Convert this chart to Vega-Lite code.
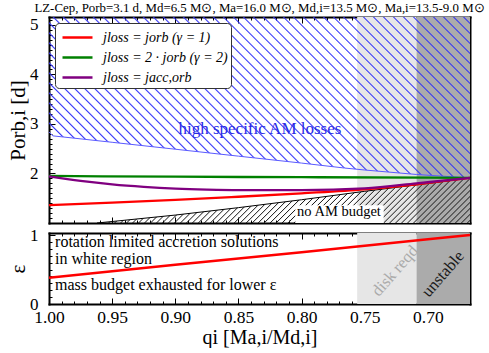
{
"$schema": "https://vega.github.io/schema/vega-lite/v6.json",
"padding": {"left": 7, "top": 1, "right": 5, "bottom": 0},
"title": {"text": "LZ-Cep, Porb=3.1 d, Md=6.5 M⊙, Ma=16.0 M⊙, Md,i=13.5 M⊙, Ma,i=13.5-9.0 M⊙", "fontSize": 12.9, "font": "Liberation Serif", "fontWeight": "normal", "anchor": "middle", "frame": "group", "offset": 1.5, "color": "black"},
"spacing": 1,
"datasets": {
"zones": [{"zone": "disk", "qa": 0.756, "qb": 0.709}, {"zone": "unstable", "qa": 0.709, "qb": 0.66667}],
"curves": [
{"model": "jloss = jorb (γ = 1)", "q": 1.0, "P": 1.36}, {"model": "jloss = jorb (γ = 1)", "q": 0.95, "P": 1.41}, {"model": "jloss = jorb (γ = 1)", "q": 0.9, "P": 1.465}, {"model": "jloss = jorb (γ = 1)", "q": 0.85, "P": 1.53}, {"model": "jloss = jorb (γ = 1)", "q": 0.8, "P": 1.6}, {"model": "jloss = jorb (γ = 1)", "q": 0.75, "P": 1.68}, {"model": "jloss = jorb (γ = 1)", "q": 0.709, "P": 1.78}, {"model": "jloss = jorb (γ = 1)", "q": 0.69, "P": 1.84}, {"model": "jloss = jorb (γ = 1)", "q": 0.66667, "P": 1.91},
{"model": "jloss = 2 · jorb (γ = 2)", "q": 1.0, "P": 1.95}, {"model": "jloss = 2 · jorb (γ = 2)", "q": 0.9, "P": 1.935}, {"model": "jloss = 2 · jorb (γ = 2)", "q": 0.8, "P": 1.925}, {"model": "jloss = 2 · jorb (γ = 2)", "q": 0.7, "P": 1.915}, {"model": "jloss = 2 · jorb (γ = 2)", "q": 0.66667, "P": 1.91},
{"model": "jloss = jacc,orb", "q": 1.0, "P": 1.94}, {"model": "jloss = jacc,orb", "q": 0.975, "P": 1.85}, {"model": "jloss = jacc,orb", "q": 0.95, "P": 1.78}, {"model": "jloss = jacc,orb", "q": 0.925, "P": 1.73}, {"model": "jloss = jacc,orb", "q": 0.9, "P": 1.695}, {"model": "jloss = jacc,orb", "q": 0.875, "P": 1.675}, {"model": "jloss = jacc,orb", "q": 0.85, "P": 1.665}, {"model": "jloss = jacc,orb", "q": 0.8, "P": 1.665}, {"model": "jloss = jacc,orb", "q": 0.75, "P": 1.7}, {"model": "jloss = jacc,orb", "q": 0.709, "P": 1.8}, {"model": "jloss = jacc,orb", "q": 0.69, "P": 1.85}, {"model": "jloss = jacc,orb", "q": 0.66667, "P": 1.91}
],
"blue": [{"q": 1.0, "P": 2.84}, {"q": 0.997, "P": 2.76}, {"q": 0.95, "P": 2.63}, {"q": 0.9, "P": 2.49}, {"q": 0.85, "P": 2.35}, {"q": 0.8, "P": 2.21}, {"q": 0.766, "P": 2.11}, {"q": 0.75, "P": 2.07}, {"q": 0.709, "P": 1.98}, {"q": 0.66667, "P": 1.91}],
"black": [{"q": 0.962, "P": 1.0}, {"q": 0.95, "P": 1.03}, {"q": 0.9, "P": 1.16}, {"q": 0.85, "P": 1.31}, {"q": 0.8, "P": 1.47}, {"q": 0.75, "P": 1.64}, {"q": 0.709, "P": 1.77}, {"q": 0.69, "P": 1.83}, {"q": 0.66667, "P": 1.91}],
"box": [{"qa": 0.805, "qb": 0.735, "pa": 1.0, "pb": 1.36}],
"toptext": [{"text": "high specific AM losses", "q": 0.833, "P": 2.9, "kind": "hi"}, {"text": "no AM budget", "q": 0.7704, "P": 1.23, "kind": "no"}],
"eps": [{"q": 1.0, "eps": 0.38}, {"q": 0.9, "eps": 0.57}, {"q": 0.8, "eps": 0.75}, {"q": 0.7, "eps": 0.94}, {"q": 0.66667, "eps": 1.0}],
"notes": [{"text": "rotation limited accretion solutions", "q": 0.9952, "eps": 0.905}, {"text": "in white region", "q": 0.9952, "eps": 0.66}, {"text": "mass budget exhausted for lower ε", "q": 0.9952, "eps": 0.276}],
"zlabels": [{"text": "disk reqd", "q": 0.726, "eps": 0.479}, {"text": "unstable", "q": 0.688, "eps": 0.435}]
},
"vconcat": [
{
"width": 421, "height": 206,
"layer": [
{"data": {"name": "zones"}, "transform": [{"filter": "datum.zone === 'disk'"}], "mark": {"type": "rect", "color": "#e6e6e6"},
 "encoding": {"x": {"field": "qa", "type": "quantitative", "scale": {"domain": [0.66667, 1], "reverse": true, "nice": false, "zero": false}, "axis": {"orient": "bottom", "values": [0.7, 0.75, 0.8, 0.85, 0.9, 0.95, 1], "tickSize": -6, "labels": false, "title": null, "domain": true, "domainWidth": 2, "domainColor": "black", "domainCap": "square"}}, "x2": {"field": "qb"},
  "y": {"datum": 1, "type": "quantitative", "scale": {"domain": [1, 5.16], "nice": false, "zero": false}, "axis": null}, "y2": {"datum": 5.16}}},
{"data": {"name": "zones"}, "transform": [{"filter": "datum.zone === 'unstable'"}], "mark": {"type": "rect", "color": "#ababab"},
 "encoding": {"x": {"field": "qa", "type": "quantitative", "axis": {"orient": "top", "values": [0.7, 0.75, 0.8, 0.85, 0.9, 0.95, 1], "tickSize": -6, "labels": false, "title": null, "domain": true, "domainWidth": 2, "domainColor": "black", "domainCap": "square"}}, "x2": {"field": "qb"},
  "y": {"datum": 1, "type": "quantitative", "axis": null}, "y2": {"datum": 5.16}}},
{"data": {"name": "blue"}, "mark": {"type": "area", "fill": {"gradient": "linear", "x1": 0, "y1": 1, "x2": 1.206, "y2": 0.539, "stops": [
{"offset":0.0061,"color":"#2d2dfa00"},{"offset":0.0086,"color":"#2d2dfa"},{"offset":0.0111,"color":"#2d2dfa00"},
{"offset":0.0233,"color":"#2d2dfa00"},{"offset":0.0258,"color":"#2d2dfa"},{"offset":0.0283,"color":"#2d2dfa00"},
{"offset":0.0405,"color":"#2d2dfa00"},{"offset":0.0430,"color":"#2d2dfa"},{"offset":0.0455,"color":"#2d2dfa00"},
{"offset":0.0577,"color":"#2d2dfa00"},{"offset":0.0602,"color":"#2d2dfa"},{"offset":0.0627,"color":"#2d2dfa00"},
{"offset":0.0749,"color":"#2d2dfa00"},{"offset":0.0774,"color":"#2d2dfa"},{"offset":0.0799,"color":"#2d2dfa00"},
{"offset":0.0921,"color":"#2d2dfa00"},{"offset":0.0946,"color":"#2d2dfa"},{"offset":0.0971,"color":"#2d2dfa00"},
{"offset":0.1093,"color":"#2d2dfa00"},{"offset":0.1118,"color":"#2d2dfa"},{"offset":0.1143,"color":"#2d2dfa00"},
{"offset":0.1265,"color":"#2d2dfa00"},{"offset":0.1290,"color":"#2d2dfa"},{"offset":0.1315,"color":"#2d2dfa00"},
{"offset":0.1437,"color":"#2d2dfa00"},{"offset":0.1462,"color":"#2d2dfa"},{"offset":0.1487,"color":"#2d2dfa00"},
{"offset":0.1609,"color":"#2d2dfa00"},{"offset":0.1634,"color":"#2d2dfa"},{"offset":0.1659,"color":"#2d2dfa00"},
{"offset":0.1781,"color":"#2d2dfa00"},{"offset":0.1806,"color":"#2d2dfa"},{"offset":0.1831,"color":"#2d2dfa00"},
{"offset":0.1953,"color":"#2d2dfa00"},{"offset":0.1978,"color":"#2d2dfa"},{"offset":0.2003,"color":"#2d2dfa00"},
{"offset":0.2125,"color":"#2d2dfa00"},{"offset":0.2150,"color":"#2d2dfa"},{"offset":0.2175,"color":"#2d2dfa00"},
{"offset":0.2297,"color":"#2d2dfa00"},{"offset":0.2322,"color":"#2d2dfa"},{"offset":0.2347,"color":"#2d2dfa00"},
{"offset":0.2469,"color":"#2d2dfa00"},{"offset":0.2494,"color":"#2d2dfa"},{"offset":0.2519,"color":"#2d2dfa00"},
{"offset":0.2641,"color":"#2d2dfa00"},{"offset":0.2666,"color":"#2d2dfa"},{"offset":0.2691,"color":"#2d2dfa00"},
{"offset":0.2813,"color":"#2d2dfa00"},{"offset":0.2838,"color":"#2d2dfa"},{"offset":0.2863,"color":"#2d2dfa00"},
{"offset":0.2985,"color":"#2d2dfa00"},{"offset":0.3010,"color":"#2d2dfa"},{"offset":0.3035,"color":"#2d2dfa00"},
{"offset":0.3157,"color":"#2d2dfa00"},{"offset":0.3182,"color":"#2d2dfa"},{"offset":0.3207,"color":"#2d2dfa00"},
{"offset":0.3329,"color":"#2d2dfa00"},{"offset":0.3354,"color":"#2d2dfa"},{"offset":0.3379,"color":"#2d2dfa00"},
{"offset":0.3501,"color":"#2d2dfa00"},{"offset":0.3526,"color":"#2d2dfa"},{"offset":0.3551,"color":"#2d2dfa00"},
{"offset":0.3673,"color":"#2d2dfa00"},{"offset":0.3698,"color":"#2d2dfa"},{"offset":0.3723,"color":"#2d2dfa00"},
{"offset":0.3845,"color":"#2d2dfa00"},{"offset":0.3870,"color":"#2d2dfa"},{"offset":0.3895,"color":"#2d2dfa00"},
{"offset":0.4017,"color":"#2d2dfa00"},{"offset":0.4042,"color":"#2d2dfa"},{"offset":0.4067,"color":"#2d2dfa00"},
{"offset":0.4189,"color":"#2d2dfa00"},{"offset":0.4214,"color":"#2d2dfa"},{"offset":0.4239,"color":"#2d2dfa00"},
{"offset":0.4361,"color":"#2d2dfa00"},{"offset":0.4386,"color":"#2d2dfa"},{"offset":0.4411,"color":"#2d2dfa00"},
{"offset":0.4533,"color":"#2d2dfa00"},{"offset":0.4558,"color":"#2d2dfa"},{"offset":0.4583,"color":"#2d2dfa00"},
{"offset":0.4705,"color":"#2d2dfa00"},{"offset":0.4730,"color":"#2d2dfa"},{"offset":0.4755,"color":"#2d2dfa00"},
{"offset":0.4877,"color":"#2d2dfa00"},{"offset":0.4902,"color":"#2d2dfa"},{"offset":0.4927,"color":"#2d2dfa00"},
{"offset":0.5049,"color":"#2d2dfa00"},{"offset":0.5074,"color":"#2d2dfa"},{"offset":0.5099,"color":"#2d2dfa00"},
{"offset":0.5221,"color":"#2d2dfa00"},{"offset":0.5246,"color":"#2d2dfa"},{"offset":0.5271,"color":"#2d2dfa00"},
{"offset":0.5393,"color":"#2d2dfa00"},{"offset":0.5418,"color":"#2d2dfa"},{"offset":0.5443,"color":"#2d2dfa00"},
{"offset":0.5565,"color":"#2d2dfa00"},{"offset":0.5590,"color":"#2d2dfa"},{"offset":0.5615,"color":"#2d2dfa00"},
{"offset":0.5737,"color":"#2d2dfa00"},{"offset":0.5762,"color":"#2d2dfa"},{"offset":0.5787,"color":"#2d2dfa00"},
{"offset":0.5909,"color":"#2d2dfa00"},{"offset":0.5934,"color":"#2d2dfa"},{"offset":0.5959,"color":"#2d2dfa00"},
{"offset":0.6081,"color":"#2d2dfa00"},{"offset":0.6106,"color":"#2d2dfa"},{"offset":0.6131,"color":"#2d2dfa00"},
{"offset":0.6253,"color":"#2d2dfa00"},{"offset":0.6278,"color":"#2d2dfa"},{"offset":0.6303,"color":"#2d2dfa00"},
{"offset":0.6425,"color":"#2d2dfa00"},{"offset":0.6450,"color":"#2d2dfa"},{"offset":0.6475,"color":"#2d2dfa00"},
{"offset":0.6597,"color":"#2d2dfa00"},{"offset":0.6622,"color":"#2d2dfa"},{"offset":0.6647,"color":"#2d2dfa00"},
{"offset":0.6769,"color":"#2d2dfa00"},{"offset":0.6794,"color":"#2d2dfa"},{"offset":0.6819,"color":"#2d2dfa00"},
{"offset":0.6941,"color":"#2d2dfa00"},{"offset":0.6966,"color":"#2d2dfa"},{"offset":0.6991,"color":"#2d2dfa00"},
{"offset":0.7113,"color":"#2d2dfa00"},{"offset":0.7138,"color":"#2d2dfa"},{"offset":0.7163,"color":"#2d2dfa00"},
{"offset":0.7285,"color":"#2d2dfa00"},{"offset":0.7310,"color":"#2d2dfa"},{"offset":0.7335,"color":"#2d2dfa00"},
{"offset":0.7457,"color":"#2d2dfa00"},{"offset":0.7482,"color":"#2d2dfa"},{"offset":0.7507,"color":"#2d2dfa00"},
{"offset":0.7629,"color":"#2d2dfa00"},{"offset":0.7654,"color":"#2d2dfa"},{"offset":0.7679,"color":"#2d2dfa00"},
{"offset":0.7801,"color":"#2d2dfa00"},{"offset":0.7826,"color":"#2d2dfa"},{"offset":0.7851,"color":"#2d2dfa00"},
{"offset":0.7973,"color":"#2d2dfa00"},{"offset":0.7998,"color":"#2d2dfa"},{"offset":0.8023,"color":"#2d2dfa00"},
{"offset":0.8145,"color":"#2d2dfa00"},{"offset":0.8170,"color":"#2d2dfa"},{"offset":0.8195,"color":"#2d2dfa00"},
{"offset":0.8317,"color":"#2d2dfa00"},{"offset":0.8342,"color":"#2d2dfa"},{"offset":0.8367,"color":"#2d2dfa00"},
{"offset":0.8489,"color":"#2d2dfa00"},{"offset":0.8514,"color":"#2d2dfa"},{"offset":0.8539,"color":"#2d2dfa00"},
{"offset":0.8661,"color":"#2d2dfa00"},{"offset":0.8686,"color":"#2d2dfa"},{"offset":0.8711,"color":"#2d2dfa00"},
{"offset":0.8833,"color":"#2d2dfa00"},{"offset":0.8858,"color":"#2d2dfa"},{"offset":0.8883,"color":"#2d2dfa00"},
{"offset":0.9005,"color":"#2d2dfa00"},{"offset":0.9030,"color":"#2d2dfa"},{"offset":0.9055,"color":"#2d2dfa00"},
{"offset":0.9177,"color":"#2d2dfa00"},{"offset":0.9202,"color":"#2d2dfa"},{"offset":0.9227,"color":"#2d2dfa00"},
{"offset":0.9349,"color":"#2d2dfa00"},{"offset":0.9374,"color":"#2d2dfa"},{"offset":0.9399,"color":"#2d2dfa00"},
{"offset":0.9521,"color":"#2d2dfa00"},{"offset":0.9546,"color":"#2d2dfa"},{"offset":0.9571,"color":"#2d2dfa00"},
{"offset":0.9693,"color":"#2d2dfa00"},{"offset":0.9718,"color":"#2d2dfa"},{"offset":0.9743,"color":"#2d2dfa00"},
{"offset":0.9865,"color":"#2d2dfa00"},{"offset":0.9890,"color":"#2d2dfa"},{"offset":0.9915,"color":"#2d2dfa00"}
]}},
 "encoding": {"x": {"field": "q", "type": "quantitative", "axis": {"orient": "bottom", "tickCount": 33, "tickSize": -3, "labels": false, "title": null}},
  "y": {"field": "P", "type": "quantitative", "axis": {"orient": "left", "values": [2, 3, 4, 5], "format": "d", "tickSize": -6, "labelPadding": 17, "labelFontSize": 17, "title": "Porb,i [d]", "titlePadding": 1, "domain": true, "domainWidth": 2, "domainColor": "black", "domainCap": "square"}},
  "y2": {"datum": 5.16}}},
{"data": {"name": "blue"}, "mark": {"type": "line", "color": "#5a5aff", "strokeWidth": 1},
 "encoding": {"x": {"field": "q", "type": "quantitative", "axis": {"orient": "top", "tickCount": 33, "tickSize": -3, "labels": false, "title": null}},
  "y": {"field": "P", "type": "quantitative", "axis": {"orient": "right", "values": [2, 3, 4, 5], "tickSize": -6, "labels": false, "title": null, "domain": true, "domainWidth": 2, "domainColor": "black", "domainCap": "square"}}}},
{"data": {"name": "black"}, "mark": {"type": "area", "fill": {"gradient": "linear", "x1": 0, "y1": 0, "x2": 1.1047, "y2": 0.1335, "stops": [
{"offset":0.0045,"color":"#1a1a1a00"},{"offset":0.0070,"color":"#1a1a1a"},{"offset":0.0095,"color":"#1a1a1a00"},
{"offset":0.0188,"color":"#1a1a1a00"},{"offset":0.0213,"color":"#1a1a1a"},{"offset":0.0238,"color":"#1a1a1a00"},
{"offset":0.0331,"color":"#1a1a1a00"},{"offset":0.0356,"color":"#1a1a1a"},{"offset":0.0381,"color":"#1a1a1a00"},
{"offset":0.0474,"color":"#1a1a1a00"},{"offset":0.0499,"color":"#1a1a1a"},{"offset":0.0524,"color":"#1a1a1a00"},
{"offset":0.0617,"color":"#1a1a1a00"},{"offset":0.0642,"color":"#1a1a1a"},{"offset":0.0667,"color":"#1a1a1a00"},
{"offset":0.0760,"color":"#1a1a1a00"},{"offset":0.0785,"color":"#1a1a1a"},{"offset":0.0810,"color":"#1a1a1a00"},
{"offset":0.0903,"color":"#1a1a1a00"},{"offset":0.0928,"color":"#1a1a1a"},{"offset":0.0953,"color":"#1a1a1a00"},
{"offset":0.1046,"color":"#1a1a1a00"},{"offset":0.1071,"color":"#1a1a1a"},{"offset":0.1096,"color":"#1a1a1a00"},
{"offset":0.1189,"color":"#1a1a1a00"},{"offset":0.1214,"color":"#1a1a1a"},{"offset":0.1239,"color":"#1a1a1a00"},
{"offset":0.1332,"color":"#1a1a1a00"},{"offset":0.1357,"color":"#1a1a1a"},{"offset":0.1382,"color":"#1a1a1a00"},
{"offset":0.1475,"color":"#1a1a1a00"},{"offset":0.1500,"color":"#1a1a1a"},{"offset":0.1525,"color":"#1a1a1a00"},
{"offset":0.1618,"color":"#1a1a1a00"},{"offset":0.1643,"color":"#1a1a1a"},{"offset":0.1668,"color":"#1a1a1a00"},
{"offset":0.1761,"color":"#1a1a1a00"},{"offset":0.1786,"color":"#1a1a1a"},{"offset":0.1811,"color":"#1a1a1a00"},
{"offset":0.1904,"color":"#1a1a1a00"},{"offset":0.1929,"color":"#1a1a1a"},{"offset":0.1954,"color":"#1a1a1a00"},
{"offset":0.2047,"color":"#1a1a1a00"},{"offset":0.2072,"color":"#1a1a1a"},{"offset":0.2097,"color":"#1a1a1a00"},
{"offset":0.2190,"color":"#1a1a1a00"},{"offset":0.2215,"color":"#1a1a1a"},{"offset":0.2240,"color":"#1a1a1a00"},
{"offset":0.2333,"color":"#1a1a1a00"},{"offset":0.2358,"color":"#1a1a1a"},{"offset":0.2383,"color":"#1a1a1a00"},
{"offset":0.2476,"color":"#1a1a1a00"},{"offset":0.2501,"color":"#1a1a1a"},{"offset":0.2526,"color":"#1a1a1a00"},
{"offset":0.2619,"color":"#1a1a1a00"},{"offset":0.2644,"color":"#1a1a1a"},{"offset":0.2669,"color":"#1a1a1a00"},
{"offset":0.2762,"color":"#1a1a1a00"},{"offset":0.2787,"color":"#1a1a1a"},{"offset":0.2812,"color":"#1a1a1a00"},
{"offset":0.2905,"color":"#1a1a1a00"},{"offset":0.2930,"color":"#1a1a1a"},{"offset":0.2955,"color":"#1a1a1a00"},
{"offset":0.3048,"color":"#1a1a1a00"},{"offset":0.3073,"color":"#1a1a1a"},{"offset":0.3098,"color":"#1a1a1a00"},
{"offset":0.3191,"color":"#1a1a1a00"},{"offset":0.3216,"color":"#1a1a1a"},{"offset":0.3241,"color":"#1a1a1a00"},
{"offset":0.3334,"color":"#1a1a1a00"},{"offset":0.3359,"color":"#1a1a1a"},{"offset":0.3384,"color":"#1a1a1a00"},
{"offset":0.3477,"color":"#1a1a1a00"},{"offset":0.3502,"color":"#1a1a1a"},{"offset":0.3527,"color":"#1a1a1a00"},
{"offset":0.3620,"color":"#1a1a1a00"},{"offset":0.3645,"color":"#1a1a1a"},{"offset":0.3670,"color":"#1a1a1a00"},
{"offset":0.3763,"color":"#1a1a1a00"},{"offset":0.3788,"color":"#1a1a1a"},{"offset":0.3813,"color":"#1a1a1a00"},
{"offset":0.3906,"color":"#1a1a1a00"},{"offset":0.3931,"color":"#1a1a1a"},{"offset":0.3956,"color":"#1a1a1a00"},
{"offset":0.4049,"color":"#1a1a1a00"},{"offset":0.4074,"color":"#1a1a1a"},{"offset":0.4099,"color":"#1a1a1a00"},
{"offset":0.4192,"color":"#1a1a1a00"},{"offset":0.4217,"color":"#1a1a1a"},{"offset":0.4242,"color":"#1a1a1a00"},
{"offset":0.4335,"color":"#1a1a1a00"},{"offset":0.4360,"color":"#1a1a1a"},{"offset":0.4385,"color":"#1a1a1a00"},
{"offset":0.4478,"color":"#1a1a1a00"},{"offset":0.4503,"color":"#1a1a1a"},{"offset":0.4528,"color":"#1a1a1a00"},
{"offset":0.4621,"color":"#1a1a1a00"},{"offset":0.4646,"color":"#1a1a1a"},{"offset":0.4671,"color":"#1a1a1a00"},
{"offset":0.4764,"color":"#1a1a1a00"},{"offset":0.4789,"color":"#1a1a1a"},{"offset":0.4814,"color":"#1a1a1a00"},
{"offset":0.4907,"color":"#1a1a1a00"},{"offset":0.4932,"color":"#1a1a1a"},{"offset":0.4957,"color":"#1a1a1a00"},
{"offset":0.5050,"color":"#1a1a1a00"},{"offset":0.5075,"color":"#1a1a1a"},{"offset":0.5100,"color":"#1a1a1a00"},
{"offset":0.5193,"color":"#1a1a1a00"},{"offset":0.5218,"color":"#1a1a1a"},{"offset":0.5243,"color":"#1a1a1a00"},
{"offset":0.5336,"color":"#1a1a1a00"},{"offset":0.5361,"color":"#1a1a1a"},{"offset":0.5386,"color":"#1a1a1a00"},
{"offset":0.5479,"color":"#1a1a1a00"},{"offset":0.5504,"color":"#1a1a1a"},{"offset":0.5529,"color":"#1a1a1a00"},
{"offset":0.5622,"color":"#1a1a1a00"},{"offset":0.5647,"color":"#1a1a1a"},{"offset":0.5672,"color":"#1a1a1a00"},
{"offset":0.5765,"color":"#1a1a1a00"},{"offset":0.5790,"color":"#1a1a1a"},{"offset":0.5815,"color":"#1a1a1a00"},
{"offset":0.5908,"color":"#1a1a1a00"},{"offset":0.5933,"color":"#1a1a1a"},{"offset":0.5958,"color":"#1a1a1a00"},
{"offset":0.6051,"color":"#1a1a1a00"},{"offset":0.6076,"color":"#1a1a1a"},{"offset":0.6101,"color":"#1a1a1a00"},
{"offset":0.6194,"color":"#1a1a1a00"},{"offset":0.6219,"color":"#1a1a1a"},{"offset":0.6244,"color":"#1a1a1a00"},
{"offset":0.6337,"color":"#1a1a1a00"},{"offset":0.6362,"color":"#1a1a1a"},{"offset":0.6387,"color":"#1a1a1a00"},
{"offset":0.6480,"color":"#1a1a1a00"},{"offset":0.6505,"color":"#1a1a1a"},{"offset":0.6530,"color":"#1a1a1a00"},
{"offset":0.6623,"color":"#1a1a1a00"},{"offset":0.6648,"color":"#1a1a1a"},{"offset":0.6673,"color":"#1a1a1a00"},
{"offset":0.6766,"color":"#1a1a1a00"},{"offset":0.6791,"color":"#1a1a1a"},{"offset":0.6816,"color":"#1a1a1a00"},
{"offset":0.6909,"color":"#1a1a1a00"},{"offset":0.6934,"color":"#1a1a1a"},{"offset":0.6959,"color":"#1a1a1a00"},
{"offset":0.7052,"color":"#1a1a1a00"},{"offset":0.7077,"color":"#1a1a1a"},{"offset":0.7102,"color":"#1a1a1a00"},
{"offset":0.7195,"color":"#1a1a1a00"},{"offset":0.7220,"color":"#1a1a1a"},{"offset":0.7245,"color":"#1a1a1a00"},
{"offset":0.7338,"color":"#1a1a1a00"},{"offset":0.7363,"color":"#1a1a1a"},{"offset":0.7388,"color":"#1a1a1a00"},
{"offset":0.7481,"color":"#1a1a1a00"},{"offset":0.7506,"color":"#1a1a1a"},{"offset":0.7531,"color":"#1a1a1a00"},
{"offset":0.7624,"color":"#1a1a1a00"},{"offset":0.7649,"color":"#1a1a1a"},{"offset":0.7674,"color":"#1a1a1a00"},
{"offset":0.7767,"color":"#1a1a1a00"},{"offset":0.7792,"color":"#1a1a1a"},{"offset":0.7817,"color":"#1a1a1a00"},
{"offset":0.7910,"color":"#1a1a1a00"},{"offset":0.7935,"color":"#1a1a1a"},{"offset":0.7960,"color":"#1a1a1a00"},
{"offset":0.8053,"color":"#1a1a1a00"},{"offset":0.8078,"color":"#1a1a1a"},{"offset":0.8103,"color":"#1a1a1a00"},
{"offset":0.8196,"color":"#1a1a1a00"},{"offset":0.8221,"color":"#1a1a1a"},{"offset":0.8246,"color":"#1a1a1a00"},
{"offset":0.8339,"color":"#1a1a1a00"},{"offset":0.8364,"color":"#1a1a1a"},{"offset":0.8389,"color":"#1a1a1a00"},
{"offset":0.8482,"color":"#1a1a1a00"},{"offset":0.8507,"color":"#1a1a1a"},{"offset":0.8532,"color":"#1a1a1a00"},
{"offset":0.8625,"color":"#1a1a1a00"},{"offset":0.8650,"color":"#1a1a1a"},{"offset":0.8675,"color":"#1a1a1a00"},
{"offset":0.8768,"color":"#1a1a1a00"},{"offset":0.8793,"color":"#1a1a1a"},{"offset":0.8818,"color":"#1a1a1a00"},
{"offset":0.8911,"color":"#1a1a1a00"},{"offset":0.8936,"color":"#1a1a1a"},{"offset":0.8961,"color":"#1a1a1a00"},
{"offset":0.9054,"color":"#1a1a1a00"},{"offset":0.9079,"color":"#1a1a1a"},{"offset":0.9104,"color":"#1a1a1a00"},
{"offset":0.9197,"color":"#1a1a1a00"},{"offset":0.9222,"color":"#1a1a1a"},{"offset":0.9247,"color":"#1a1a1a00"},
{"offset":0.9340,"color":"#1a1a1a00"},{"offset":0.9365,"color":"#1a1a1a"},{"offset":0.9390,"color":"#1a1a1a00"},
{"offset":0.9483,"color":"#1a1a1a00"},{"offset":0.9508,"color":"#1a1a1a"},{"offset":0.9533,"color":"#1a1a1a00"},
{"offset":0.9626,"color":"#1a1a1a00"},{"offset":0.9651,"color":"#1a1a1a"},{"offset":0.9676,"color":"#1a1a1a00"},
{"offset":0.9769,"color":"#1a1a1a00"},{"offset":0.9794,"color":"#1a1a1a"},{"offset":0.9819,"color":"#1a1a1a00"},
{"offset":0.9912,"color":"#1a1a1a00"},{"offset":0.9937,"color":"#1a1a1a"},{"offset":0.9962,"color":"#1a1a1a00"}
]}},
 "encoding": {"x": {"field": "q", "type": "quantitative", "axis": null},
  "y": {"field": "P", "type": "quantitative", "axis": {"orient": "left", "tickCount": 40, "tickSize": -3, "labels": false, "title": null}},
  "y2": {"datum": 1}}},
{"data": {"name": "black"}, "mark": {"type": "line", "color": "black", "strokeWidth": 1},
 "encoding": {"x": {"field": "q", "type": "quantitative", "axis": null},
  "y": {"field": "P", "type": "quantitative", "axis": {"orient": "right", "tickCount": 40, "tickSize": -3, "labels": false, "title": null}}}},
{"data": {"name": "box"}, "mark": {"type": "rect", "color": "white"},
 "encoding": {"x": {"field": "qa", "type": "quantitative", "axis": null}, "x2": {"field": "qb"}, "y": {"field": "pa", "type": "quantitative", "axis": null}, "y2": {"field": "pb"}}},
{"data": {"name": "curves"}, "mark": {"type": "line", "strokeWidth": 2.3, "interpolate": "monotone"},
 "encoding": {"x": {"field": "q", "type": "quantitative", "axis": null},
  "y": {"field": "P", "type": "quantitative", "axis": null},
  "color": {"field": "model", "type": "nominal", "scale": {"domain": ["jloss = jorb (γ = 1)", "jloss = 2 · jorb (γ = 2)", "jloss = jacc,orb"], "range": ["#ff0000", "#008000", "#800080"]},
   "legend": {"orient": "top-left", "offset": 6, "title": null, "symbolType": "M-1.5,0L1.5,0", "symbolSize": 400, "symbolStrokeWidth": 2.5, "labelFontSize": 14, "labelFont": "Liberation Serif", "labelFontStyle": "italic", "labelColor": "black", "labelOffset": 14, "symbolOffset": 8, "padding": 3, "rowPadding": 1, "fillColor": "white", "strokeColor": "#333333", "cornerRadius": 4, "labelLimit": 300}}}},
{"data": {"name": "toptext"}, "transform": [{"filter": "datum.kind === 'hi'"}], "mark": {"type": "text", "fontSize": 17, "color": "#2a2ae6", "font": "Liberation Serif"},
 "encoding": {"x": {"field": "q", "type": "quantitative", "axis": null}, "y": {"field": "P", "type": "quantitative", "axis": null}, "text": {"field": "text"}}},
{"data": {"name": "toptext"}, "transform": [{"filter": "datum.kind === 'no'"}], "mark": {"type": "text", "fontSize": 14.5, "color": "black", "font": "Liberation Serif"},
 "encoding": {"x": {"field": "q", "type": "quantitative", "axis": null}, "y": {"field": "P", "type": "quantitative", "axis": null}, "text": {"field": "text"}}}
],
"resolve": {"axis": {"x": "independent", "y": "independent"}}
},
{
"width": 421, "height": 71,
"layer": [
{"data": {"name": "zones"}, "transform": [{"filter": "datum.zone === 'disk'"}], "mark": {"type": "rect", "color": "#e6e6e6"},
 "encoding": {"x": {"field": "qa", "type": "quantitative", "scale": {"domain": [0.66667, 1], "reverse": true, "nice": false, "zero": false}, "axis": {"orient": "bottom", "values": [0.7, 0.75, 0.8, 0.85, 0.9, 0.95, 1], "format": ".2f", "tickSize": -6, "labelPadding": 10, "labelFontSize": 17.5, "labelFlush": false, "title": "qi [Ma,i/Md,i]", "titleFontSize": 20, "titlePadding": 2, "domain": true, "domainWidth": 2, "domainColor": "black", "domainCap": "square"}}, "x2": {"field": "qb"},
  "y": {"datum": 0, "type": "quantitative", "scale": {"domain": [0, 1.03], "nice": false}, "axis": null}, "y2": {"datum": 1.03}}},
{"data": {"name": "zones"}, "transform": [{"filter": "datum.zone === 'unstable'"}], "mark": {"type": "rect", "color": "#ababab"},
 "encoding": {"x": {"field": "qa", "type": "quantitative", "axis": {"orient": "top", "values": [0.7, 0.75, 0.8, 0.85, 0.9, 0.95, 1], "tickSize": -6, "labels": false, "title": null, "domain": true, "domainWidth": 2, "domainColor": "black", "domainCap": "square"}}, "x2": {"field": "qb"},
  "y": {"datum": 0, "type": "quantitative", "axis": null}, "y2": {"datum": 1.03}}},
{"data": {"name": "eps"}, "mark": {"type": "line", "color": "#ff0000", "strokeWidth": 2.5},
 "encoding": {"x": {"field": "q", "type": "quantitative", "axis": {"orient": "bottom", "tickCount": 33, "tickSize": -3, "labels": false, "title": null}},
  "y": {"field": "eps", "type": "quantitative", "axis": {"orient": "left", "values": [0, 1], "format": "d", "tickSize": -6, "labelPadding": 17, "labelFontSize": 17, "title": "ε", "titlePadding": 1, "domain": true, "domainWidth": 2, "domainColor": "black", "domainCap": "square"}}}},
{"data": {"name": "notes"}, "mark": {"type": "text", "align": "left", "baseline": "middle", "fontSize": 16, "color": "black", "font": "Liberation Serif"},
 "encoding": {"x": {"field": "q", "type": "quantitative", "axis": {"orient": "top", "tickCount": 33, "tickSize": -3, "labels": false, "title": null}},
  "y": {"field": "eps", "type": "quantitative", "axis": {"orient": "right", "values": [0, 1], "tickSize": -6, "labels": false, "title": null, "domain": true, "domainWidth": 2, "domainColor": "black", "domainCap": "square"}}, "text": {"field": "text"}}},
{"data": {"name": "zlabels"}, "transform": [{"filter": "datum.text === 'disk reqd'"}], "mark": {"type": "text", "angle": 311, "fontSize": 16.5, "color": "#aaaaaa", "font": "Liberation Serif"},
 "encoding": {"x": {"field": "q", "type": "quantitative", "axis": null},
  "y": {"field": "eps", "type": "quantitative", "axis": {"orient": "left", "tickCount": 10, "tickSize": -3, "labels": false, "title": null}}, "text": {"field": "text"}}},
{"data": {"name": "zlabels"}, "transform": [{"filter": "datum.text === 'unstable'"}], "mark": {"type": "text", "angle": 311, "fontSize": 16.5, "color": "#1a1a1a", "font": "Liberation Serif"},
 "encoding": {"x": {"field": "q", "type": "quantitative", "axis": null},
  "y": {"field": "eps", "type": "quantitative", "axis": {"orient": "right", "tickCount": 10, "tickSize": -3, "labels": false, "title": null}}, "text": {"field": "text"}}}
],
"resolve": {"axis": {"x": "independent", "y": "independent"}}
}
],
"resolve": {"scale": {"color": "independent"}, "legend": {"color": "independent"}},
"config": {
 "font": "Liberation Serif",
 "view": {"stroke": null},
 "axis": {"grid": false, "domain": false, "labelFont": "Liberation Serif", "titleFont": "Liberation Serif", "labelFontSize": 18, "titleFontSize": 21, "titleFontWeight": "normal", "labelColor": "black", "titleColor": "black", "tickColor": "black", "tickWidth": 1, "zindex": 1}
}
}
